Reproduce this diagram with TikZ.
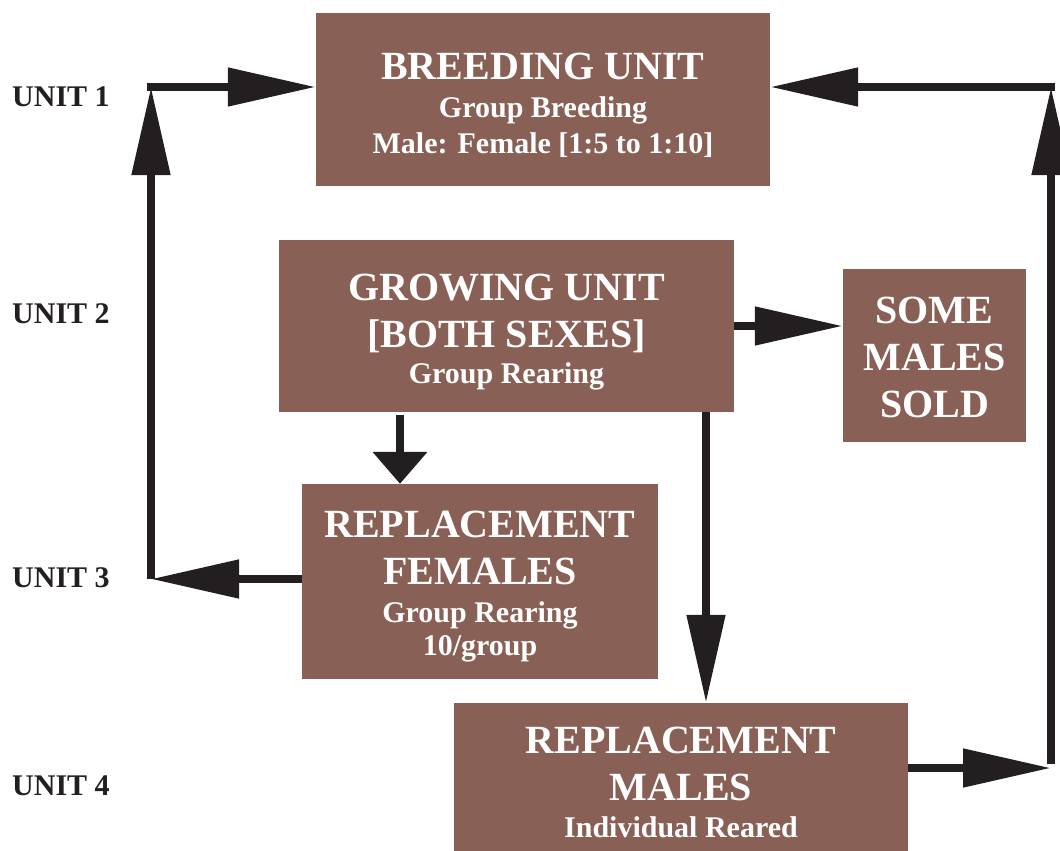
\documentclass[tikz,border=0pt]{standalone}
\usepackage{fontspec}
\setmainfont{Liberation Serif}
\usetikzlibrary{arrows.meta}
\definecolor{boxbrown}{RGB}{137,96,85}
\definecolor{ink}{RGB}{35,31,32}
\begin{document}
\begin{tikzpicture}[x=1pt,y=-1pt,
  box/.style={fill=boxbrown, inner sep=0pt},
  bigtext/.style={anchor=base, inner sep=0pt, text=white, font=\bfseries\fontsize{40}{48}\selectfont},
  smalltext/.style={anchor=base, inner sep=0pt, text=white, font=\bfseries\fontsize{30}{38}\selectfont},
  unitlabel/.style={font=\bfseries\fontsize{30}{36}\selectfont, text=ink, anchor=base west, inner sep=0pt},
  flow/.style={draw=ink, line width=8pt, -{Triangle[length=88pt,width=37pt,fill=ink]}},
  shortflow/.style={draw=ink, line width=8pt, -{Triangle[length=32pt,width=53pt,fill=ink]}}
]
\useasboundingbox (0,0) rectangle (1060,851);

% boxes
\node[box, minimum width=454pt, minimum height=173pt] (B1) at (543,99.5) {};
\node[box, minimum width=455pt, minimum height=172pt] (B2) at (506.5,326) {};
\node[box, minimum width=183pt, minimum height=173pt] (S) at (934.5,355.5) {};
\node[box, minimum width=356pt, minimum height=195pt] (F) at (480,581.5) {};
\node[box, minimum width=454pt, minimum height=148pt] (M) at (681,777) {};

% box texts
\node[bigtext]   (B1a) at (543,79)  {BREEDING UNIT};
\node[smalltext] (B1b) at (543,117) {Group Breeding};
\node[smalltext] (B1c) at (543,153) {Male: Female [1:5 to 1:10]};

\node[bigtext]   (B2a) at (506.5,300) {GROWING UNIT};
\node[bigtext]   (B2b) at (506.5,347) {[BOTH SEXES]};
\node[smalltext] (B2c) at (506.5,383) {Group Rearing};

\node[bigtext] (Sa) at (934.5,323) {SOME};
\node[bigtext] (Sb) at (934.5,370) {MALES};
\node[bigtext] (Sc) at (934.5,417) {SOLD};

\node[bigtext]   (Fa) at (480,537) {REPLACEMENT};
\node[bigtext]   (Fb) at (480,584) {FEMALES};
\node[smalltext] (Fc) at (480,622) {Group Rearing};
\node[smalltext] (Fd) at (480,655) {10/group};

\node[bigtext]   (Ma) at (681,753) {REPLACEMENT};
\node[bigtext]   (Mb) at (681,800) {MALES};
\node[smalltext] (Mc) at (681,837) {Individual Reared};

% unit labels
\node[unitlabel] (U1) at (12,106) {UNIT 1};
\node[unitlabel] (U2) at (12,323) {UNIT 2};
\node[unitlabel] (U3) at (12,587) {UNIT 3};
\node[unitlabel] (U4) at (12,795) {UNIT 4};

% corner coordinates
\coordinate (L1) at (151,87);
\coordinate (L3) at (151,579);
\coordinate (R1) at (1051,87);
\coordinate (R4) at (1051,768);
\coordinate (d1) at (400,450);
\coordinate (d2) at (706,500);

% connectors
\draw[flow] (L3 -| F.west) -- (L3);
\draw[flow] (L3) -- (L1);
\draw[flow] ([xshift=-4pt]L1) -- (L1 -| B1.west);
\draw[flow] (R4 -| M.east) -- (R4);
\draw[flow] ([yshift=4pt]R4) -- (R1);
\draw[flow] ([xshift=4pt]R1) -- (R1 -| B1.east);
\draw[flow] (B2.east) -- (B2.east -| S.west);
\draw[shortflow] ([yshift=-3pt]B2.south -| d1) -- (F.north -| d1);
\draw[flow] (B2.south -| d2) -- (M.north -| d2);
\end{tikzpicture}
\end{document}
